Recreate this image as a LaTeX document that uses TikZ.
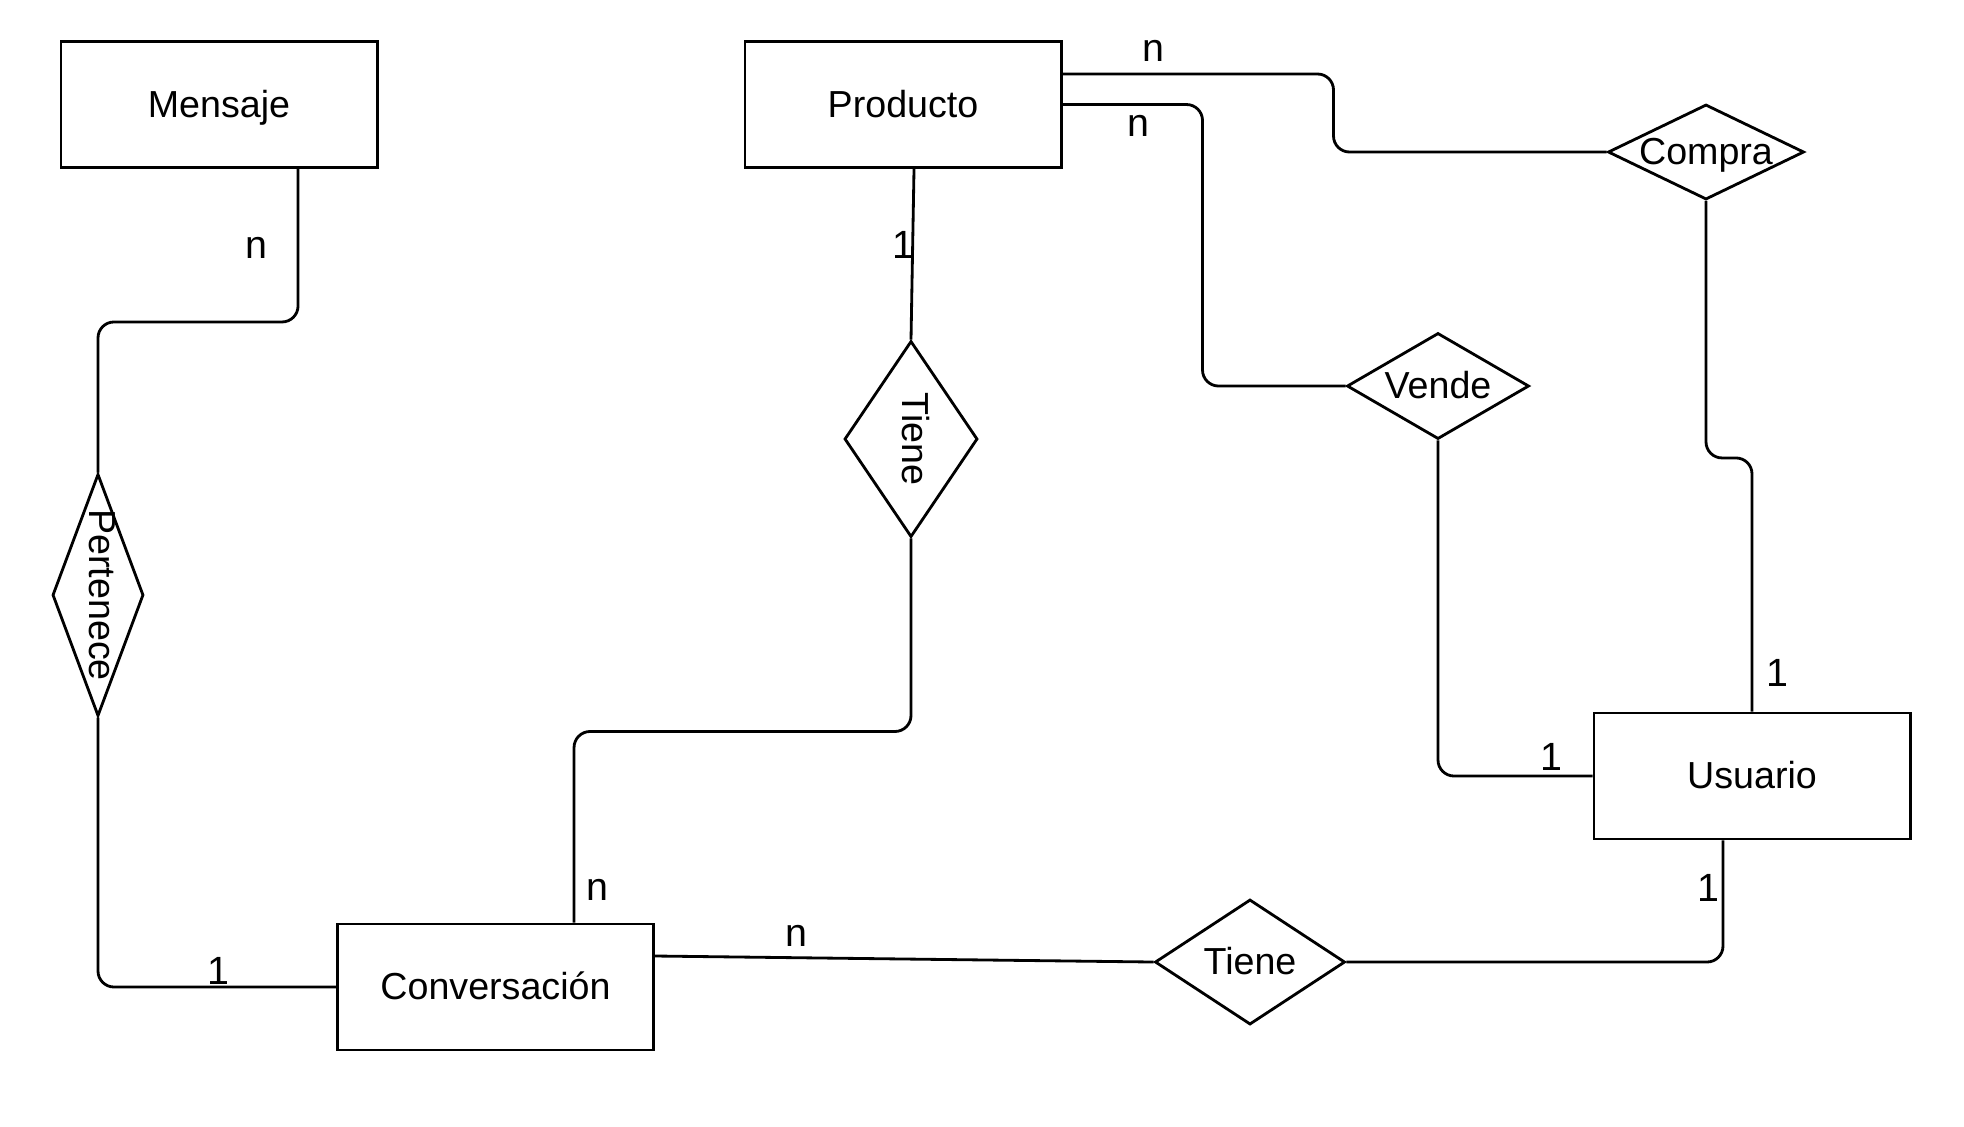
\documentclass[tikz,border=0pt]{standalone}
\usepackage{fontspec}
\setmainfont{Liberation Sans}
\usepackage{graphicx}
\usepackage{tikz}
\usetikzlibrary{shapes.geometric, positioning}

\begin{document}
\begin{tikzpicture}[x=0.01cm,y=-0.01cm,line width=0.8pt,
                    entity node/.style={rectangle,draw,minimum width=3.16cm,minimum height=1.26cm,
                                        inner sep=0pt,text height=0.72em,text depth=0pt,
                                        font=\fontsize{10.7}{12}\selectfont},
                    relation node/.style={diamond,draw,inner sep=0pt},
                    every label/.style={inner sep=0pt,text height=0.72em,text depth=0pt,
                                        font=\fontsize{10.7}{12}\selectfont},
                    card node/.style={inner sep=0pt,font=\fontsize{11.2}{13}\selectfont},
                    link/.style={rounded corners=1.6mm}]

  \useasboundingbox (0,0) rectangle (1964,1126);

  \node[entity node] (mensaje) at (219,104.5) {Mensaje};
  \node[entity node] (producto) at (903,104.5) {Producto};
  \node[entity node] (usuario) at (1752,776) {Usuario};
  \node[entity node] (conversacion) at (495.5,987) {Conversación};

  \node[relation node, minimum width=1.96cm, minimum height=0.95cm,
        label={center:Compra}] (compra) at (1706,152) {};
  \node[relation node, minimum width=1.82cm, minimum height=1.06cm,
        label={center:Vende}] (vende) at (1438,386) {};
  \node[relation node, minimum width=1.33cm, minimum height=1.96cm,
        label={[xshift=0.4mm,rotate=-90]center:Tiene}] (tieneprod) at (911,439) {};
  \node[relation node, minimum width=0.91cm, minimum height=2.42cm,
        label={[xshift=0.4mm,rotate=-90]center:Pertenece}] (pertenece) at (98,595) {};
  \node[relation node, minimum width=1.90cm, minimum height=1.25cm,
        label={center:Tiene}] (tieneusr) at (1250,962) {};

  \draw[link] ([xshift=7.9mm]mensaje.south) -- ++(0,153) -| (pertenece.north);
  \draw[link] (pertenece.south) |- (conversacion.west);
  \draw[link] ([xshift=1.1mm]producto.south) -- (tieneprod.north);
  \draw[link] (tieneprod.south) -- ++(0,193) -| ([xshift=7.85mm]conversacion.north);
  \draw[link] ([yshift=3.05mm]producto.east) -- ++(271,0) |- (compra.west);
  \draw[link] (producto.east) -- ++(140,0) |- (vende.west);
  \draw[link] (compra.south) -- ++(0,257) -| (usuario.north);
  \draw[link] (vende.south) |- (usuario.west);
  \draw[link] ([xshift=-2.9mm]usuario.south) |- (tieneusr.east);
  \draw[link] ([yshift=3.1mm]conversacion.east) -- (tieneusr.west);

  \node[card node] (c1) at (256,248) {n};
  \node[card node] (c2) at (903,245) {1};
  \node[card node] (c3) at (1153,51) {n};
  \node[card node] (c4) at (1138,126) {n};
  \node[card node] (c5) at (1777,673) {1};
  \node[card node] (c6) at (1551,757) {1};
  \node[card node] (c7) at (1708,888) {1};
  \node[card node] (c8) at (597,890) {n};
  \node[card node] (c9) at (796,936) {n};
  \node[card node] (c10) at (218,971) {1};
%  \node[card node] (c11) at (0,0) {};
\end{tikzpicture}
\end{document}
